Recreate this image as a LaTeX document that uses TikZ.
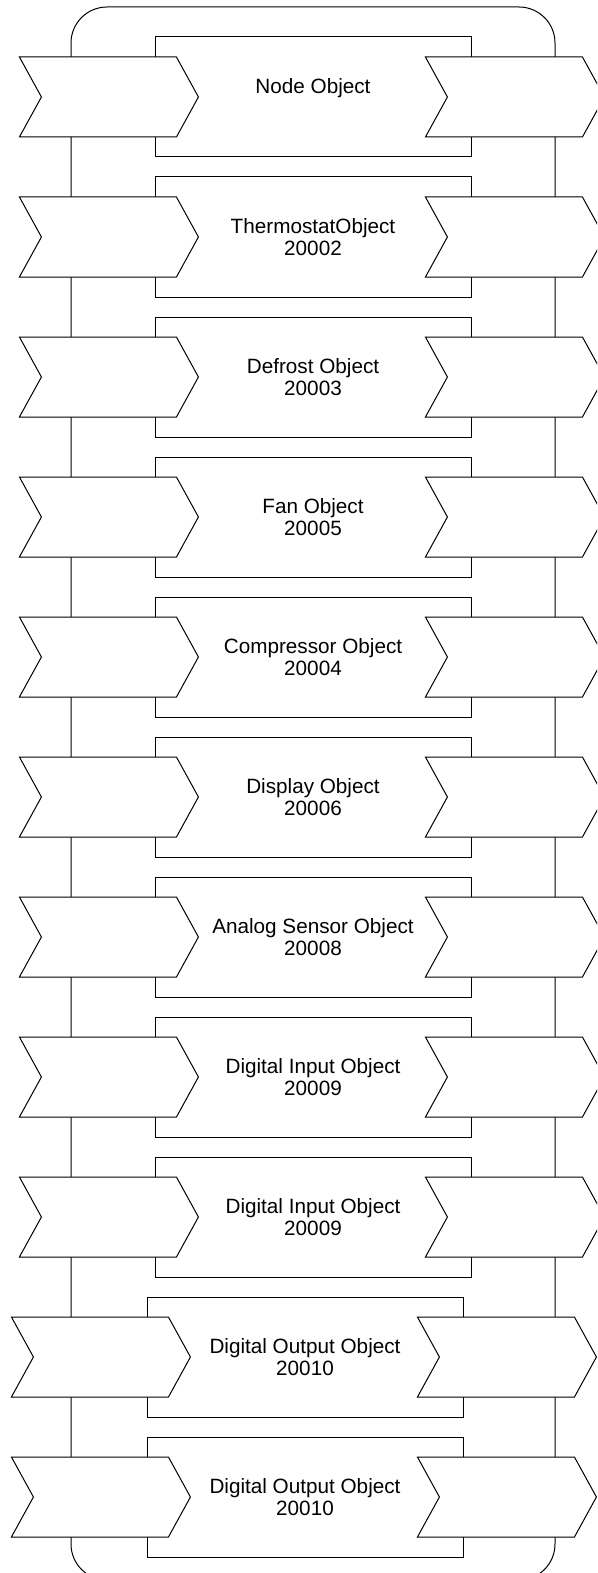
\documentclass[tikz,border=0pt]{standalone}
\usepackage{fontspec}
\setmainfont{Liberation Sans}
\usetikzlibrary{shapes.symbols}
\begin{document}
\begin{tikzpicture}[x=1pt,y=-1pt,line width=1pt,
  every node/.style={font=\fontsize{20.7}{22.3}\selectfont},
  objbox/.style={draw,fill=white,minimum width=316,minimum height=120,inner sep=0pt,align=center},
  flag/.style={draw,fill=white,shape=signal,signal from=west,signal to=east,signal pointer angle=122.4,minimum width=179,minimum height=80,inner sep=0pt,anchor=east}]
\useasboundingbox (0,0) rectangle (597,1573);
\clip (0,0) rectangle (597,1573);
% frame
\draw[rounded corners=36] (71,7) rectangle (555,1580);
% objects
\node[objbox] (node) at (313,97) {Node Object\\ \mbox{}};
\node[flag] (node-in) at (199,97) {};
\node[flag] (node-out) at (605,97) {};
\node[objbox] (thermo) at (313,237) {ThermostatObject\\20002};
\node[flag] (thermo-in) at (199,237) {};
\node[flag] (thermo-out) at (605,237) {};
\node[objbox] (defrost) at (313,377) {Defrost Object\\20003};
\node[flag] (defrost-in) at (199,377) {};
\node[flag] (defrost-out) at (605,377) {};
\node[objbox] (fan) at (313,517) {Fan Object\\20005};
\node[flag] (fan-in) at (199,517) {};
\node[flag] (fan-out) at (605,517) {};
\node[objbox] (comp) at (313,657) {Compressor Object\\20004};
\node[flag] (comp-in) at (199,657) {};
\node[flag] (comp-out) at (605,657) {};
\node[objbox] (disp) at (313,797) {Display Object\\20006};
\node[flag] (disp-in) at (199,797) {};
\node[flag] (disp-out) at (605,797) {};
\node[objbox] (sensor) at (313,937) {Analog Sensor Object\\20008};
\node[flag] (sensor-in) at (199,937) {};
\node[flag] (sensor-out) at (605,937) {};
\node[objbox] (din1) at (313,1077) {Digital Input Object\\20009};
\node[flag] (din1-in) at (199,1077) {};
\node[flag] (din1-out) at (605,1077) {};
\node[objbox] (din2) at (313,1217) {Digital Input Object\\20009};
\node[flag] (din2-in) at (199,1217) {};
\node[flag] (din2-out) at (605,1217) {};
\node[objbox] (dout1) at (305,1357) {Digital Output Object\\20010};
\node[flag] (dout1-in) at (191,1357) {};
\node[flag] (dout1-out) at (597,1357) {};
\node[objbox] (dout2) at (305,1497) {Digital Output Object\\20010};
\node[flag] (dout2-in) at (191,1497) {};
\node[flag] (dout2-out) at (597,1497) {};
\end{tikzpicture}
\end{document}
